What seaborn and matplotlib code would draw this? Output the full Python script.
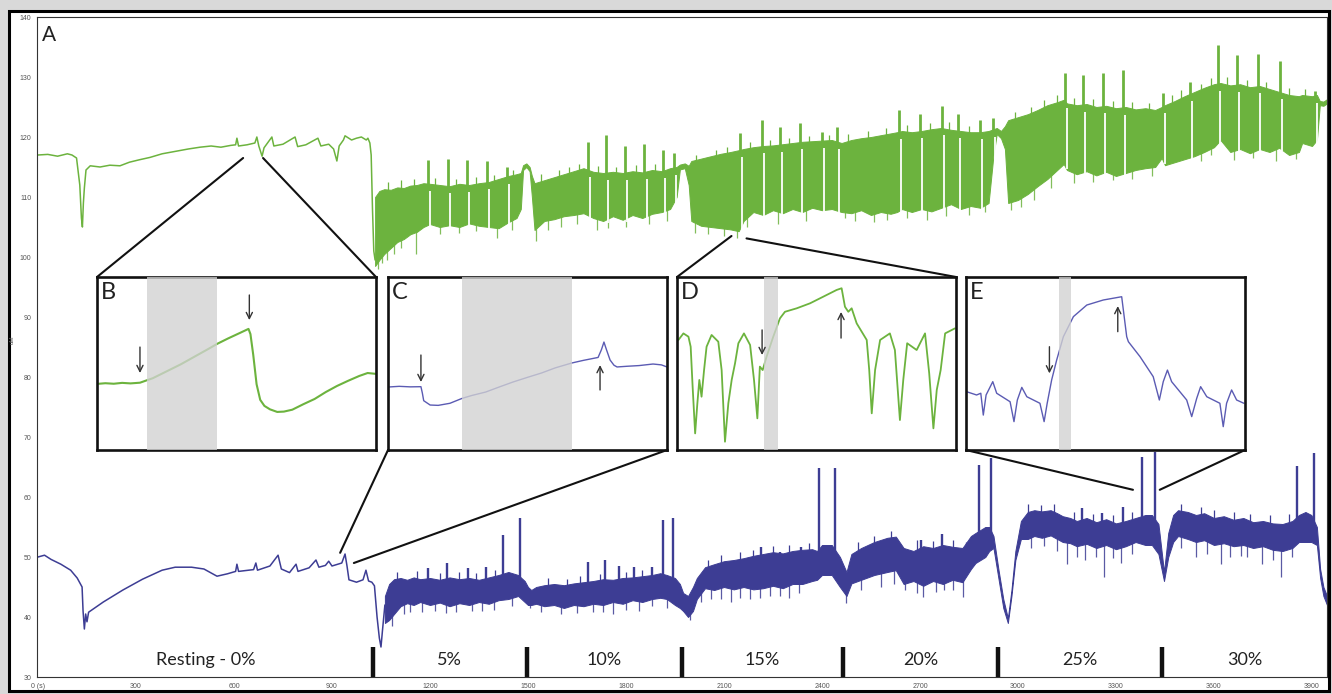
import numpy as np
import matplotlib
matplotlib.use("Agg")
import matplotlib.pyplot as plt
from matplotlib.patches import Rectangle, ConnectionPatch
import seaborn as sns

sns.set_theme(style="white")
plt.rcParams["font.family"] = ["Lato", "DejaVu Sans"]

GREEN = "#6cb33e"
BLUE = "#3d3d94"
BLUE_LIGHT = "#5b5bb3"
SPAN_GREY = "#d2d2d2"

# ---------------- main recording (time in s, concentration in uM) ----------------
# upper (green) trace: resting part drawn as a line
green_rest = [(0, 117.0), (30, 117.1), (60, 116.8), (90, 117.2), (104, 117.0), (118, 116.5),
              (128, 112.0), (133, 106.5), (136, 105.0), (139, 109.0), (142, 111.5), (147, 114.5),
              (160, 115.2), (190, 115.0), (220, 115.3), (251, 115.2), (280, 115.8), (310, 116.2),
              (343, 116.6), (380, 117.2), (420, 117.6), (460, 118.0), (496, 118.3), (530, 118.5),
              (560, 118.3), (590, 118.6), (605, 118.7), (609, 119.8), (614, 118.5), (640, 118.7),
              (664, 119.0), (670, 120.0), (676, 118.5), (686, 116.8), (692, 118.2), (716, 120.0),
              (722, 118.5), (750, 118.8), (787, 120.0), (795, 118.4), (820, 118.7), (857, 119.8),
              (866, 118.5), (890, 118.8), (905, 118.0), (915, 116.0), (922, 118.5), (935, 119.5),
              (940, 120.2), (960, 119.5), (975, 119.8), (990, 120.0), (1005, 119.5), (1010, 119.8),
              (1016, 119.0), (1020, 117.0), (1024, 108.0), (1028, 101.0), (1032, 99.5)]

# upper trace during exercise: envelope of the fast oscillation (t, top, bottom)
green_band = [(1032, 110.0, 98.5), (1045, 111.0, 99.5), (1060, 111.3, 100.5), (1080, 111.2, 101.5),
              (1100, 111.6, 102.5), (1120, 111.5, 103.0), (1140, 111.9, 103.8), (1160, 112.0, 104.2),
              (1180, 112.3, 105.0), (1200, 112.2, 105.5), (1230, 112.0, 105.0), (1260, 111.8, 105.3),
              (1290, 112.2, 105.0), (1320, 112.0, 105.6), (1350, 112.3, 105.2), (1380, 112.5, 105.0),
              (1410, 113.0, 104.8), (1440, 113.5, 105.8), (1465, 113.8, 106.5), (1478, 114.0, 108.0),
              (1485, 115.3, 114.5), (1495, 115.6, 115.0), (1505, 115.0, 114.3), (1512, 113.5, 110.0),
              (1520, 112.3, 104.5), (1550, 112.8, 106.0), (1580, 113.3, 106.3), (1610, 113.8, 106.8),
              (1640, 114.3, 107.0), (1670, 114.8, 107.3), (1700, 114.2, 106.5), (1730, 114.0, 106.0),
              (1760, 114.2, 106.8), (1790, 114.0, 106.2), (1820, 114.3, 107.0), (1850, 114.1, 106.5),
              (1880, 114.5, 107.2), (1910, 114.3, 107.5), (1935, 114.8, 108.0), (1955, 115.0, 110.0),
              (1965, 115.4, 114.6), (1980, 115.6, 114.8), (1992, 115.2, 112.0), (2000, 116.0, 106.0),
              (2030, 116.4, 105.2), (2060, 116.8, 105.0), (2090, 117.2, 104.8), (2120, 117.5, 104.6),
              (2145, 117.8, 104.3), (2160, 118.0, 106.0), (2190, 118.3, 107.5), (2220, 118.5, 107.0),
              (2250, 118.6, 107.8), (2280, 118.8, 107.3), (2310, 119.0, 108.0), (2340, 119.2, 107.5),
              (2370, 119.3, 108.2), (2400, 119.4, 107.8), (2430, 119.5, 108.0), (2460, 119.0, 107.5),
              (2490, 119.5, 107.3), (2520, 119.8, 107.8), (2550, 120.0, 107.0), (2580, 120.3, 107.5),
              (2610, 120.6, 107.2), (2630, 120.8, 107.5), (2645, 121.0, 108.0), (2675, 120.8, 107.5),
              (2705, 121.0, 108.0), (2735, 121.3, 107.6), (2765, 121.5, 108.2), (2795, 121.2, 108.8),
              (2825, 121.0, 108.0), (2855, 120.8, 108.5), (2885, 120.8, 108.2), (2910, 121.0, 109.0),
              (2925, 121.3, 117.0), (2935, 121.5, 120.5), (2948, 121.0, 119.8), (2960, 121.8, 118.0),
              (2970, 122.8, 109.0), (3000, 123.3, 109.5), (3030, 123.8, 110.5), (3060, 124.5, 111.8),
              (3090, 125.3, 113.0), (3120, 125.8, 114.5), (3140, 126.2, 115.5), (3150, 125.6, 114.5),
              (3180, 125.3, 113.8), (3210, 125.5, 114.3), (3240, 125.0, 113.6), (3270, 125.2, 114.2),
              (3300, 124.8, 113.5), (3330, 125.0, 114.0), (3360, 124.6, 114.5), (3390, 124.8, 114.8),
              (3420, 124.5, 115.0), (3440, 125.0, 116.5), (3450, 125.3, 115.3), (3480, 126.0, 115.8),
              (3510, 126.8, 116.3), (3540, 127.5, 116.8), (3570, 128.2, 117.5), (3600, 128.8, 118.3),
              (3620, 129.0, 119.5), (3650, 128.6, 117.5), (3680, 128.8, 118.0), (3710, 128.3, 117.3),
              (3740, 128.5, 118.0), (3770, 128.0, 117.5), (3800, 127.5, 118.2), (3830, 127.0, 117.0),
              (3860, 126.8, 117.5), (3870, 127.0, 119.0), (3900, 126.8, 118.5), (3915, 127.0, 119.5),
              (3924, 126.0, 125.3), (3935, 125.9, 125.2), (3946, 126.3, 125.6)]

green_spikes = [(1194, 116.2), (1255, 116.4), (1313, 116.2), (1374, 116.0), (1435, 115.0),
                (1684, 119.2), (1739, 120.3), (1797, 118.5), (1856, 118.9), (1913, 117.8),
                (1947, 117.3), (2149, 120.6), (2216, 122.8), (2271, 121.7), (2332, 122.3),
                (2400, 120.9), (2446, 121.7), (2636, 124.5), (2700, 123.9), (2767, 125.1),
                (2816, 123.9), (2883, 122.8), (2923, 123.1), (3143, 130.6), (3199, 130.3),
                (3260, 130.6), (3321, 131.2), (3444, 127.3), (3527, 129.2), (3612, 135.3),
                (3670, 133.7), (3735, 133.9), (3802, 132.6), (3909, 127.6)]

# short upward excursions above the oscillation band
green_ticks = [(1070, 112.5), (1110, 112.8), (1150, 113.0), (1215, 113.2), (1280, 113.0), (1340, 113.3),
               (1395, 113.6), (1455, 114.5), (1540, 113.8), (1595, 114.5), (1625, 115.0), (1655, 115.5),
               (1715, 115.2), (1770, 115.0), (1830, 115.3), (1890, 115.5), (2015, 117.0), (2075, 117.8),
               (2110, 118.3), (2180, 119.2), (2240, 119.5), (2300, 119.8), (2360, 120.2), (2420, 120.3),
               (2480, 120.5), (2540, 121.0), (2595, 121.5), (2660, 122.0), (2730, 122.3), (2790, 122.5),
               (2850, 121.8), (2990, 124.2), (3040, 125.0), (3080, 126.2), (3120, 127.0), (3170, 126.5),
               (3230, 126.3), (3290, 126.0), (3350, 125.8), (3400, 125.7), (3470, 127.0), (3500, 127.8),
               (3560, 128.8), (3590, 129.8), (3640, 130.0), (3700, 129.5), (3760, 129.2), (3830, 128.2),
               (3880, 128.0)]

green_dips = [(1040, 98.0), (1052, 99.0), (1068, 99.5), (1090, 100.5), (1110, 101.5), (1158, 100.5),
              (1232, 103.8), (1290, 104.0), (1340, 104.3), (1405, 103.2), (1450, 104.5), (1525, 102.6),
              (1560, 104.5), (1600, 105.0), (1650, 105.5), (1710, 104.5), (1745, 104.8), (1800, 105.0),
              (1870, 105.5), (1925, 106.0), (2010, 104.0), (2050, 103.8), (2100, 103.5), (2140, 103.2),
              (2170, 105.0), (2265, 105.5), (2350, 106.0), (2470, 106.5), (2500, 106.0), (2560, 105.8),
              (2600, 106.2), (2660, 106.5), (2720, 106.2), (2780, 106.8), (2850, 107.0), (2900, 107.5),
              (2980, 107.8), (3010, 108.3), (3050, 109.5), (3100, 111.5), (3170, 112.3), (3230, 112.5),
              (3290, 112.8), (3350, 113.0), (3410, 113.5), (3560, 116.0), (3590, 117.0), (3660, 116.2),
              (3720, 116.5), (3790, 116.0), (3850, 116.3)]

# lower (blue) trace
blue_rest = [(0, 50.0), (20, 50.3), (40, 49.6), (70, 48.8), (100, 47.8), (120, 46.5), (135, 45.0),
             (138, 41.0), (142, 38.0), (146, 40.5), (150, 39.2), (155, 40.8), (200, 42.5), (260, 44.5),
             (320, 46.3), (380, 47.8), (420, 48.3), (470, 48.3), (508, 48.0), (548, 46.8), (580, 47.2),
             (605, 47.6), (609, 48.8), (614, 47.6), (660, 47.9), (667, 49.0), (672, 47.8), (710, 48.5),
             (735, 50.3), (745, 48.0), (770, 47.4), (790, 48.8), (796, 47.6), (830, 48.2), (851, 49.5),
             (860, 48.3), (880, 48.6), (890, 49.3), (900, 48.5), (930, 49.0), (940, 50.5), (946, 48.5),
             (952, 46.2), (975, 45.8), (995, 46.2), (1004, 47.8), (1012, 46.0), (1022, 45.8), (1030, 45.2),
             (1038, 40.0), (1045, 36.5), (1050, 35.0), (1055, 38.0), (1062, 42.0)]

blue_band = [(1062, 43.5, 39.0), (1075, 45.5, 39.5), (1090, 46.3, 40.5), (1110, 46.5, 41.8),
             (1130, 46.2, 42.3), (1150, 46.6, 42.0), (1170, 46.3, 42.5), (1200, 46.5, 42.0),
             (1230, 46.2, 42.4), (1260, 46.6, 41.8), (1290, 46.3, 42.3), (1320, 46.5, 42.0),
             (1350, 46.2, 42.5), (1380, 46.6, 42.2), (1410, 47.0, 42.8), (1440, 47.5, 43.0),
             (1470, 47.0, 43.5), (1490, 46.0, 42.5), (1500, 45.0, 42.0), (1510, 44.5, 42.0),
             (1525, 45.0, 42.2), (1550, 45.3, 41.8), (1580, 45.5, 42.0), (1610, 45.3, 41.5),
             (1640, 45.6, 42.0), (1670, 45.8, 41.8), (1700, 46.0, 42.2), (1730, 46.3, 42.0),
             (1760, 46.2, 42.5), (1790, 46.5, 42.2), (1820, 46.6, 42.8), (1850, 46.8, 42.5),
             (1880, 47.0, 43.0), (1905, 47.3, 43.2), (1925, 47.0, 43.0), (1950, 46.5, 42.0),
             (1965, 45.5, 41.5), (1975, 44.0, 41.0), (1990, 43.5, 40.0), (2005, 45.0, 41.0),
             (2017, 46.5, 43.0), (2042, 48.3, 44.8), (2070, 48.8, 44.5), (2100, 49.3, 45.0),
             (2130, 49.5, 44.6), (2160, 49.8, 45.0), (2190, 50.2, 44.6), (2220, 50.5, 44.8),
             (2250, 50.8, 45.2), (2280, 50.6, 44.8), (2310, 51.0, 45.5), (2340, 51.2, 45.5),
             (2370, 51.3, 46.0), (2385, 51.0, 46.2), (2400, 52.0, 47.0), (2430, 52.0, 47.0),
             (2455, 50.0, 45.0), (2475, 47.5, 43.5), (2490, 50.5, 45.6), (2520, 51.5, 46.2),
             (2560, 52.5, 47.0), (2600, 53.2, 47.5), (2626, 53.4, 47.8), (2650, 51.5, 45.5),
             (2680, 51.0, 46.0), (2710, 51.8, 45.2), (2740, 51.5, 46.0), (2770, 52.0, 45.5),
             (2800, 51.7, 46.2), (2830, 51.5, 45.8), (2856, 53.5, 48.0), (2870, 54.0, 49.0),
             (2885, 54.5, 49.5), (2900, 55.0, 50.0), (2912, 55.0, 51.0), (2925, 53.5, 51.5),
             (2940, 48.0, 46.5), (2955, 43.0, 41.5), (2969, 39.8, 39.0), (2980, 44.5, 43.5),
             (2992, 51.0, 49.5), (3009, 56.0, 53.0), (3030, 57.5, 53.0), (3050, 57.8, 53.5),
             (3073, 57.6, 53.2), (3100, 57.8, 53.6), (3120, 57.3, 53.0), (3137, 56.8, 52.5),
             (3160, 56.5, 52.3), (3180, 56.0, 51.8), (3210, 56.5, 52.2), (3240, 55.8, 51.5),
             (3270, 56.3, 52.0), (3300, 55.6, 51.3), (3330, 56.0, 51.8), (3360, 56.5, 52.5),
             (3390, 57.0, 52.0), (3410, 57.0, 52.0), (3430, 55.5, 50.5), (3447, 47.5, 46.0),
             (3460, 54.0, 50.0), (3475, 57.0, 52.5), (3490, 57.8, 53.5), (3520, 57.5, 53.0),
             (3545, 57.0, 52.5), (3570, 57.3, 52.8), (3600, 56.5, 52.0), (3630, 56.8, 52.3),
             (3660, 56.2, 51.8), (3690, 56.5, 52.0), (3720, 55.8, 51.5), (3750, 56.0, 51.8),
             (3780, 55.6, 51.2), (3810, 55.5, 51.0), (3840, 56.0, 51.5), (3860, 57.0, 52.5),
             (3880, 57.5, 52.5), (3898, 57.0, 52.5), (3915, 55.0, 52.0), (3925, 48.0, 46.5),
             (3935, 45.0, 43.5), (3946, 43.5, 42.0)]

blue_spikes = [(1194, 48.2), (1252, 49.0), (1316, 48.2), (1371, 48.3), (1424, 53.7), (1475, 56.5),
               (1684, 49.2), (1736, 49.5), (1778, 48.5), (1824, 48.3), (1880, 48.3), (1913, 56.2),
               (1944, 56.5), (2213, 51.7), (2271, 50.8), (2336, 51.7), (2391, 64.8), (2440, 64.8),
               (2703, 52.8), (2767, 53.9), (2880, 65.3), (2917, 66.5), (3196, 58.2), (3257, 57.3),
               (3321, 58.4), (3379, 66.7), (3419, 67.5), (3854, 65.1), (3906, 67.3)]

blue_ticks = [(1100, 47.5), (1160, 47.6), (1230, 47.3), (1290, 47.5), (1340, 47.3), (1400, 47.8),
              (1560, 46.5), (1620, 46.4), (1660, 46.8), (1720, 47.2), (1800, 47.5), (1850, 47.8),
              (2050, 49.5), (2090, 50.3), (2150, 50.8), (2190, 51.2), (2250, 51.8), (2300, 52.0),
              (2360, 52.3), (2510, 52.5), (2560, 53.5), (2610, 54.3), (2690, 52.8), (2740, 52.6),
              (2800, 52.8), (2840, 52.5), (3030, 58.8), (3070, 58.6), (3110, 58.9), (3170, 57.5),
              (3230, 57.2), (3290, 57.0), (3350, 57.5), (3500, 58.8), (3560, 58.3), (3600, 57.8),
              (3660, 57.5), (3710, 57.2), (3770, 57.0), (3830, 57.2)]

blue_dips = [(1085, 38.5), (1120, 40.5), (1140, 40.8), (1175, 40.8), (1215, 41.0), (1250, 40.6),
             (1280, 40.8), (1330, 41.0), (1360, 41.0), (1395, 41.2), (1450, 41.8), (1506, 41.5),
             (1540, 40.8), (1600, 40.5), (1650, 40.6), (1700, 40.8), (1730, 40.8), (1760, 40.5),
             (1800, 41.2), (1840, 41.0), (1880, 41.8), (1925, 41.5), (1996, 39.5), (2030, 42.5),
             (2060, 43.0), (2090, 43.0), (2120, 42.5), (2150, 43.2), (2180, 43.0), (2210, 43.2),
             (2240, 43.5), (2270, 43.5), (2300, 43.2), (2330, 44.0), (2473, 42.3), (2520, 44.5),
             (2580, 45.0), (2620, 45.5), (2654, 44.5), (2690, 44.0), (2709, 43.3), (2750, 44.2),
             (2773, 44.5), (2800, 44.5), (2831, 43.4), (3040, 51.5), (3080, 51.8), (3120, 51.0),
             (3150, 48.9), (3180, 50.0), (3205, 49.5), (3240, 50.0), (3263, 46.7), (3290, 49.8),
             (3315, 49.0), (3350, 50.5), (3500, 51.5), (3545, 50.0), (3580, 50.5), (3621, 48.9),
             (3650, 50.0), (3682, 50.2), (3700, 50.0), (3747, 48.9), (3780, 49.5), (3805, 46.7),
             (3840, 50.0)]

# exercise stages
stage_edges = [1025, 1497, 1971, 2464, 2939, 3440]
stage_labels = ["Resting - 0%", "5%", "10%", "15%", "20%", "25%", "30%"]

x_ticks = list(range(0, 4000, 300))
x_tick_labels = ["0 (s)"] + [str(v) for v in x_ticks[1:]]
y_ticks = list(range(30, 150, 10))
x_range = (-3, 3946)
y_range = (30, 140)

# ---------------- zoomed excerpts (relative units 0-100) ----------------
inset_b = [(0, 38.2), (3, 38.6), (6, 38.3), (9, 38.8), (12, 38.5), (15.4, 38.9), (20, 41.5),
           (25, 45.5), (30, 49.5), (35, 54.0), (40, 58.5), (43, 61.3), (47, 64.5), (51, 67.5),
           (54.3, 70.0), (55.0, 67.0), (56.0, 55.0), (57.2, 38.0), (58.5, 29.0), (60, 25.5),
           (62, 23.5), (64.6, 22.0), (67, 22.2), (70, 23.3), (74, 26.5), (78, 29.5), (82, 33.5),
           (86, 37.0), (90, 40.0), (94, 42.8), (97, 44.5), (100, 44.0)]
inset_c = [(0, 36.4), (4, 36.8), (8, 36.5), (11.8, 36.6), (12.3, 33.0), (12.8, 28.5), (15.1, 26.0),
           (18, 25.8), (22.2, 27.0), (26.5, 29.8), (30, 31.5), (35, 33.5), (40, 36.5), (44.8, 39.3),
           (50, 42.0), (55, 44.5), (60, 47.5), (65.9, 50.3), (70, 51.8), (75.3, 53.5), (76.5, 58.0),
           (77.4, 62.4), (78.3, 58.0), (79.6, 52.0), (81, 49.0), (82.1, 48.0), (85.7, 48.4),
           (90, 48.8), (95, 49.7), (98, 49.2), (100, 48.0)]
inset_d = [(0.5, 63.6), (2.3, 67.4), (4.1, 65.5), (4.9, 59.7), (5.6, 36.6), (6.5, 9.6), (7.3, 27.0),
           (8.0, 40.5), (8.8, 30.8), (9.7, 46.2), (10.6, 59.7), (12.4, 66.5), (14.8, 62.6),
           (16.0, 46.2), (17.2, 4.8), (18.4, 27.0), (19.6, 40.5), (20.8, 50.1), (22.0, 61.7),
           (24.0, 67.4), (26.2, 60.7), (27.6, 40.5), (28.8, 18.3), (29.7, 48.2), (30.7, 46.2),
           (32.1, 53.9), (34.5, 65.5), (36.9, 76.1), (38.7, 79.9), (42.9, 81.9), (47.7, 84.8),
           (52.4, 88.6), (57.2, 92.5), (59.0, 93.5), (60.2, 82.8), (61.4, 79.9), (62.6, 81.9),
           (64.4, 73.2), (68.0, 63.6), (68.9, 46.2), (69.8, 21.2), (71.0, 46.2), (72.8, 63.6),
           (76.3, 67.4), (78.1, 57.8), (79.9, 17.3), (81.1, 40.5), (82.5, 61.7), (85.9, 57.8),
           (88.9, 67.4), (90.4, 44.3), (91.9, 12.5), (93.1, 34.7), (94.5, 46.2), (96.1, 67.4),
           (99.6, 70.3)]
inset_e = [(0.2, 33.7), (3.8, 31.8), (5.3, 32.8), (6.2, 20.2), (7.2, 31.8), (9.6, 39.5), (11.0, 32.8),
           (15.8, 27.9), (17.2, 16.4), (18.4, 28.9), (20.0, 36.2), (21.8, 30.8), (26.5, 27.0),
           (28.0, 16.4), (29.1, 27.0), (30.7, 40.5), (32.5, 52.0), (34.9, 65.5), (38.5, 77.1),
           (43.3, 83.8), (49.2, 86.7), (55.8, 88.6), (57.6, 65.5), (58.2, 62.6), (62.4, 53.9),
           (67.1, 42.4), (69.3, 28.9), (70.7, 39.5), (72.2, 46.2), (73.7, 39.5), (79.1, 28.9),
           (80.9, 19.3), (82.7, 29.9), (84.1, 36.6), (86.3, 30.8), (91.0, 27.0), (92.2, 13.5),
           (93.4, 27.0), (95.2, 34.7), (97.0, 28.9), (99.6, 27.0)]

inset_spans = {"B": (17.9, 42.9), "C": (26.5, 65.9), "D": (31.2, 36.2), "E": (33.3, 37.5)}
inset_arrows = {"B": [(15.4, 59.5, 44.5), (54.6, 89.6, 75.1)],
                "C": [(11.8, 54.9, 39.3), (76.0, 34.7, 49.1)],
                "D": [(30.5, 69.4, 54.9), (58.8, 64.7, 79.8)],
                "E": [(29.9, 59.7, 44.3), (54.4, 68.4, 83.2)]}
# points on the main recording that each excerpt is taken from
inset_sources = {"B": [(628, 116.5), (689, 116.5)],
                 "C": [(925, 50.7), (967, 49.0)],
                 "D": [(2123, 103.5), (2169, 103.1)],
                 "E": [(3352, 61.2), (3434, 61.2)]}

# ---------------- figure ----------------
W, H = 1332, 694
fig = plt.figure(figsize=(W / 100, H / 100), dpi=100, facecolor="#d9d9d9")
frame = Rectangle((8.5 / W, 3 / H), 1320.5 / W, 680.5 / H, transform=fig.transFigure,
                  facecolor="white", edgecolor="black", linewidth=2.2, zorder=-5)
fig.add_artist(frame)

ax = fig.add_axes([37 / W, 17 / H, 1290 / W, 660 / H])
ax.set_facecolor("white")
ax.set_zorder(1)


def unzip(rows):
    return [np.array(c, dtype=float) for c in zip(*rows)]


def draw_trace(rest, band, spikes, ticks, dips, color, spike_lw, gap_after_spike):
    rt, rv = unzip(rest)
    sns.lineplot(x=rt, y=rv, ax=ax, color=color, linewidth=1.1, estimator=None, sort=False)
    bt, bhi, blo = unzip(band)
    ax.fill_between(bt, blo, bhi, color=color, linewidth=0.7, edgecolor=color)
    kt, kv = unzip(ticks)
    ax.vlines(kt, np.interp(kt, bt, bhi) - 0.5, kv, color=color, linewidth=0.9)
    dt, dv = unzip(dips)
    ax.vlines(dt, dv, np.interp(dt, bt, blo) + 1.0, color=color, linewidth=0.9, alpha=0.85)
    st, sv = unzip(spikes)
    if gap_after_spike:
        # the oscillation pauses briefly during each transient, leaving a notch in the band
        ax.vlines(st + 7, np.interp(st, bt, blo) - 0.5, np.interp(st, bt, bhi) - 1.2,
                  color="white", linewidth=1.3)
    ax.vlines(st, np.interp(st, bt, bhi) - 1.0, sv, color=color, linewidth=spike_lw)


draw_trace(green_rest, green_band, green_spikes, green_ticks, green_dips, GREEN, 2.0, True)
draw_trace(blue_rest, blue_band, blue_spikes, blue_ticks, blue_dips, BLUE, 1.7, False)

# stage markers and labels
ax.vlines(stage_edges, 30, 35, color="#111111", linewidth=3.2)
bounds = [0] + stage_edges + [x_range[1]]
for i, lab in enumerate(stage_labels):
    ax.text((bounds[i] + bounds[i + 1]) / 2, 32.8, lab, ha="center", va="center",
            fontsize=13, color="#222222")

ax.set_xlim(*x_range)
ax.set_ylim(*y_range)
ax.set_xticks(x_ticks)
ax.set_xticklabels(x_tick_labels)
ax.set_yticks(y_ticks)
ax.tick_params(axis="both", labelsize=5, labelcolor="#555555", color="#444444",
               length=2.5, width=0.6, direction="out", pad=1.5)
for lbl in ax.get_xticklabels() + ax.get_yticklabels():
    lbl.set_family(["Liberation Sans", "DejaVu Sans"])
for sp in ax.spines.values():
    sp.set_visible(True)
    sp.set_color("#333333")
    sp.set_linewidth(0.8)
ax.set_xlabel("")
ax.set_ylabel("")
ax.text(0.004, 0.988, "A", transform=ax.transAxes, ha="left", va="top", fontsize=15, color="#222222")
fig.text(12 / W, 1 - 340 / H, "uM", rotation=90, fontsize=4.5, color="#555555",
         ha="center", va="center", family=["Liberation Sans", "DejaVu Sans"])

# ---------------- excerpt panels ----------------
panels = [("B", 97, inset_b, GREEN, 1.5, "top"),
          ("C", 388, inset_c, BLUE_LIGHT, 1.0, "bottom"),
          ("D", 677, inset_d, GREEN, 1.3, "top"),
          ("E", 966, inset_e, BLUE_LIGHT, 1.0, "bottom")]
for letter, left_px, rows, color, lw, side in panels:
    iax = fig.add_axes([left_px / W, (H - 450) / H, 279 / W, 173 / H])
    iax.set_zorder(3)
    iax.set_facecolor("white")
    px, py = unzip(rows)
    sns.lineplot(x=px, y=py, ax=iax, color=color, linewidth=lw, estimator=None, sort=False)
    s0, s1 = inset_spans[letter]
    iax.axvspan(s0, s1, color=SPAN_GREY, alpha=0.78, zorder=3, linewidth=0)
    for xa, y_tail, y_head in inset_arrows[letter]:
        iax.annotate("", xy=(xa, y_head), xytext=(xa, y_tail), zorder=4,
                     arrowprops=dict(arrowstyle="->", color="#333333", lw=1.0,
                                     mutation_scale=11, shrinkA=0, shrinkB=0))
    iax.text(1.5, 97, letter, ha="left", va="top", fontsize=17, color="#222222", zorder=5)
    iax.set_xlim(0, 100)
    iax.set_ylim(0, 100)
    iax.set_xticks([])
    iax.set_yticks([])
    iax.set_xlabel("")
    iax.set_ylabel("")
    for sp in iax.spines.values():
        sp.set_visible(True)
        sp.set_color("#111111")
        sp.set_linewidth(1.9)
    corner_y = 1 if side == "top" else 0
    for cx, src in zip((0, 1), inset_sources[letter]):
        con = ConnectionPatch(xyA=(cx, corner_y), coordsA=iax.transAxes,
                              xyB=src, coordsB=ax.transData,
                              color="#111111", linewidth=1.5, zorder=5)
        fig.add_artist(con)

fig.savefig("out.png", dpi=100, facecolor=fig.get_facecolor())
